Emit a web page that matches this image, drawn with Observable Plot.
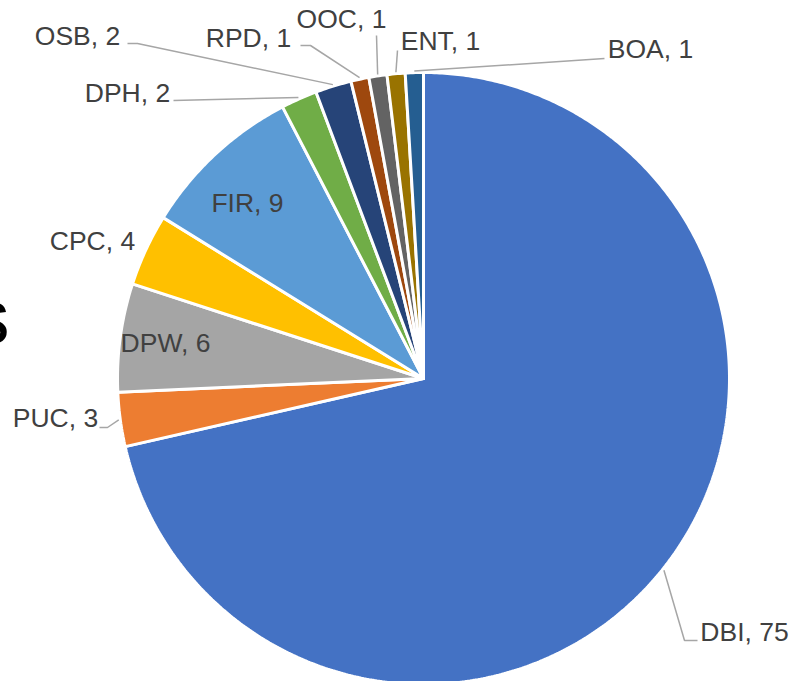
<!DOCTYPE html>
<html><head><meta charset="utf-8">
<script src="https://cdn.jsdelivr.net/npm/d3@7"></script>
<script src="https://cdn.jsdelivr.net/npm/@observablehq/plot@0.6"></script>
<style>body{margin:0;background:#fff;} svg{display:block;}</style>
</head><body><div id="chart"></div>
<script>
// ---- data ----
const categories = ["DBI","PUC","DPW","CPC","FIR","DPH","OSB","RPD","OOC","ENT","BOA"];
const values = [75,3,6,4,9,2,2,1,1,1,1];
const colors = ["#4472C4","#ED7D31","#A5A5A5","#FFC000","#5B9BD5","#70AD47","#264478","#9E480E","#636363","#997300","#255E91"];

// ---- layout (page pixels) ----
const W = 803, H = 681, CX = 423, CY = 378, R = 306;
const labelCenter = [[744,632],[55,418],[165,343],[92,241],[247,203],[127,93],[77,36],[248,38],[341,19],[440,41],[650,49]];
const leaderBends = [
  [[684,640],[697,640]],
  [[107,427],[99,427]],
  null, null, null,
  [[173,100]],
  [[137,43],[127,43]],
  [[310,45],[300,45]],
  [[376,35]],
  [[397,50]],
  [[604,58]]
];

const arcs = d3.pie().sort(null).value(d => d)(values);

const slicePts = [];
arcs.forEach((a, i) => {
  const name = categories[i], color = colors[i];
  slicePts.push({name, color, x: 0, y: 0});
  const n = Math.max(2, Math.ceil((a.endAngle - a.startAngle) / (Math.PI / 360)));
  for (let k = 0; k <= n; k++) {
    const t = a.startAngle + (a.endAngle - a.startAngle) * k / n;
    slicePts.push({name, color, x: R * Math.sin(t), y: -R * Math.cos(t)});
  }
  slicePts.push({name, color, x: 0, y: 0});
});

const leaderPts = [];
arcs.forEach((a, i) => {
  const b = leaderBends[i];
  if (!b) return;
  const m = (a.startAngle + a.endAngle) / 2;
  leaderPts.push({name: categories[i], x: R * 1.005 * Math.sin(m), y: -R * 1.005 * Math.cos(m)});
  b.forEach(p => leaderPts.push({name: categories[i], x: p[0] - CX, y: p[1] - CY}));
});

const labels = categories.map((c, i) => ({
  text: `${c}, ${values[i]}`,
  x: labelCenter[i][0] - CX,
  y: labelCenter[i][1] - CY
}));

const titleFrag = [{text: "s", x: 9 - CX, y: 318 - CY}];

const chart = Plot.plot({
  width: W, height: H, margin: 0,
  style: {fontFamily: "'Liberation Sans', Arial, sans-serif", background: "#fff"},
  x: {domain: [-CX, W - CX], axis: null},
  y: {domain: [-CY, H - CY], reverse: true, axis: null},
  color: {type: "identity"},
  marks: [
    Plot.line(slicePts, {x: "x", y: "y", z: "name", fill: "color", stroke: "#fff", strokeWidth: 3, strokeLinejoin: "miter", curve: "linear"}),
    Plot.line(leaderPts, {x: "x", y: "y", z: "name", stroke: "#A6A6A6", strokeWidth: 1.5, strokeLinejoin: "miter", strokeLinecap: "butt"}),
    Plot.text(labels, {x: "x", y: "y", text: "text", fontSize: 26.5, fill: "#404040", textAnchor: "middle"}),
    Plot.text(titleFrag, {x: "x", y: "y", text: "text", fontSize: 76, fill: "#000", textAnchor: "end"})
  ]
});
document.getElementById("chart").appendChild(chart);
</script>
</body></html>
